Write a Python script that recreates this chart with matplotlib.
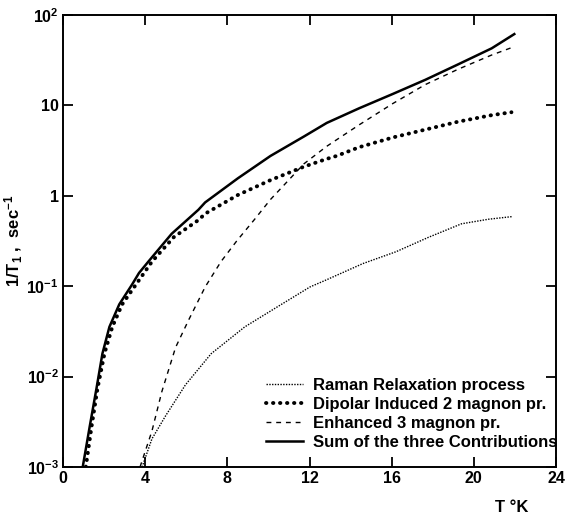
import matplotlib
matplotlib.use("Agg")
import matplotlib.pyplot as plt
from matplotlib.lines import Line2D

# Data (T in K, 1/T1 in s^-1)
T_raman = [3.85, 4.33, 5.0, 5.96, 7.21, 8.85, 10.43, 12.02, 12.84, 14.6, 16.2, 17.8, 19.4, 20.7, 21.9]
R_raman = [0.001, 0.00205, 0.0037, 0.0081, 0.0179, 0.0355, 0.059, 0.098, 0.118, 0.178, 0.24, 0.348,
           0.49, 0.55, 0.59]

T_dip = [1.11, 1.39, 1.68, 2.02, 2.40, 2.88, 3.56, 4.33, 5.4, 6.6, 6.92, 8.51, 10.10, 11.73,
         12.84, 13.32, 14.42, 16.06, 17.64, 19.23, 20.87, 21.83]
R_dip = [0.001, 0.0028, 0.0074, 0.018, 0.0355, 0.063, 0.105, 0.187, 0.35, 0.54, 0.634, 1.02, 1.49,
         2.10, 2.56, 2.76, 3.45, 4.42, 5.4, 6.6, 7.8, 8.4]

T_enh = [3.75, 4.33, 4.81, 5.48, 6.11, 6.92, 7.69, 8.45, 9.33, 10.1, 11.73, 12.84, 14.42, 16.06,
         17.64, 19.23, 20.87, 21.88]
R_enh = [0.001, 0.0025, 0.0068, 0.021, 0.042, 0.098, 0.187, 0.315, 0.55, 0.91, 2.26, 3.53, 6.1,
         10.5, 17.0, 25.1, 36.1, 43.9]

T_sum = [0.96, 1.30, 1.63, 1.92, 2.26, 2.74, 3.37, 3.70, 4.18, 5.29, 6.59, 6.92, 8.51, 10.10,
         11.73, 12.84, 14.42, 16.06, 17.64, 19.23, 20.87, 21.97]
R_sum = [0.001, 0.0028, 0.0074, 0.018, 0.0355, 0.063, 0.105, 0.14, 0.19, 0.38, 0.70, 0.845, 1.56,
         2.76, 4.53, 6.4, 9.3, 13.4, 19.2, 28.4, 42.8, 61.5]

labels = ["Raman Relaxation process", "Dipolar Induced 2 magnon pr.",
          "Enhanced 3 magnon pr.", "Sum of the three Contributions"]
xticks = [0, 4, 8, 12, 16, 20, 24]
yticks = [1e-3, 1e-2, 1e-1, 1, 10, 100]
yticklabels = [r"$\mathregular{10^{-3}}$", r"$\mathregular{10^{-2}}$", r"$\mathregular{10^{-1}}$",
               "1", "10", r"$\mathregular{10^{2}}$"]

plt.rcParams['font.family'] = ['Liberation Sans', 'DejaVu Sans']
plt.rcParams['mathtext.fontset'] = 'custom'
plt.rcParams['mathtext.rm'] = 'Liberation Sans:bold'
plt.rcParams['mathtext.it'] = 'Liberation Sans:bold'
plt.rcParams['mathtext.bf'] = 'Liberation Sans:bold'

W, H = 566, 518
fig = plt.figure(figsize=(W / 100, H / 100), dpi=100)
ax = fig.add_axes([63 / W, (H - 467) / H, (556 - 63) / W, (467 - 15) / H])

raman_ls = dict(color='black', lw=1.0, linestyle=(0, (1, 1)))
dip_ls = dict(color='black', lw=2.8, linestyle=(0, (0.1, 1.7)), dash_capstyle='round')
enh_ls = dict(color='black', lw=1.0, linestyle=(0, (3.5, 3.5)))
sum_ls = dict(color='black', lw=1.8)

ax.plot(T_raman, R_raman, **raman_ls)
ax.plot(T_dip, R_dip, **dip_ls)
ax.plot(T_enh, R_enh, **enh_ls)
ax.plot(T_sum, R_sum, **sum_ls)

ax.set_yscale('log')
ax.set_xlim(0, 24)
ax.set_ylim(1e-3, 1e2)
ax.set_xticks(xticks)
ax.set_xticklabels([str(v) for v in xticks])
ax.set_yticks(yticks)
ax.set_yticklabels(yticklabels)
ax.minorticks_off()
ax.tick_params(direction='in', length=7.5, width=1.3, top=True, right=True,
               labelsize=11.5, pad=3)
for lab in ax.get_xticklabels() + ax.get_yticklabels():
    lab.set_fontweight('bold')
for sp in ax.spines.values():
    sp.set_linewidth(1.4)

ax.set_ylabel(r"1/T$_\mathregular{1}$ ,  sec$^\mathregular{-1}$", fontsize=12,
              fontweight='bold')
ax.yaxis.set_label_coords(-0.077, 0.5)
fig.text(512 / W, 1 - 508 / H, "T °K", fontsize=12, fontweight='bold',
         ha='center', va='center')

handles = [Line2D([], [], **raman_ls), Line2D([], [], **dip_ls),
           Line2D([], [], **enh_ls), Line2D([], [], **sum_ls)]
leg = ax.legend(handles, labels, loc='upper left', bbox_to_anchor=(266 / W, 1 - 378 / H),
                bbox_transform=fig.transFigure, frameon=False,
                prop={'size': 12, 'weight': 'bold'}, handlelength=2.2, handletextpad=0.6,
                labelspacing=0.24, borderpad=0, borderaxespad=0)

fig.savefig("out.png", dpi=100)
